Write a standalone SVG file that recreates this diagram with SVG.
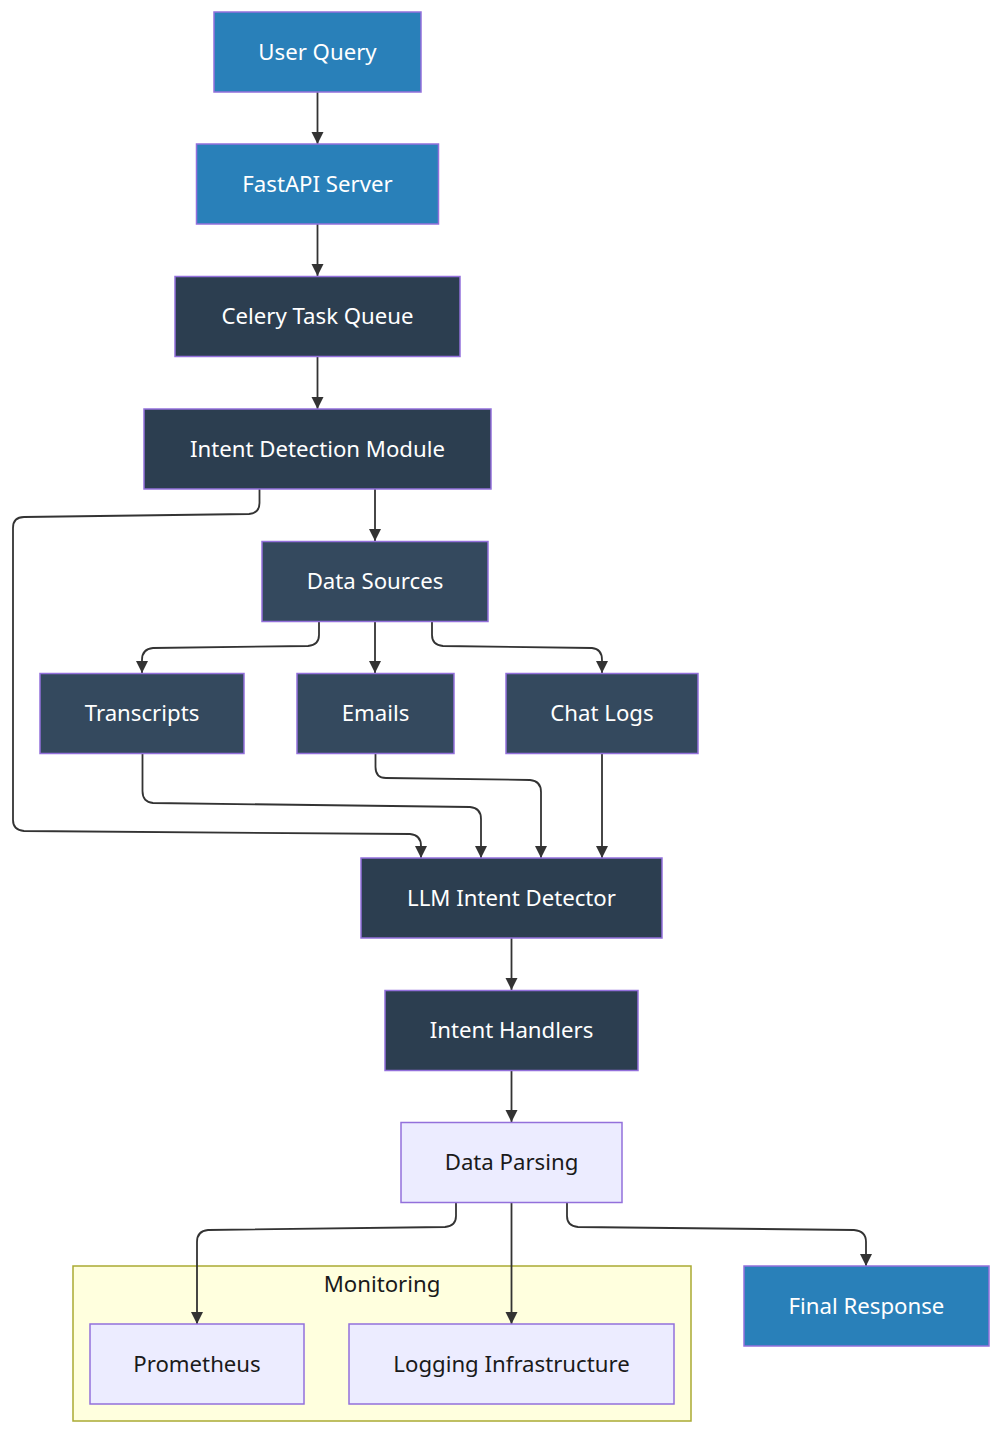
<svg xmlns="http://www.w3.org/2000/svg" width="1000" height="1434" viewBox="0 0 1000 1434">
<style>
text{font-family:"Noto Sans","Open Sans","DejaVu Sans",sans-serif;font-size:22.2px;text-anchor:middle;dominant-baseline:central}
.n rect{stroke:#9370db;stroke-width:1.5}
.b rect{fill:#2980b9}.b text,.d text,.s text{fill:#fff}
.d rect{fill:#2c3e50}.s rect{fill:#34495e}
.l rect{fill:#ececff}.l text,.c text{fill:#1a1a1a}
.c rect{fill:#ffffde;stroke:#aaaa33;stroke-width:1.5}
#edges path{fill:none;stroke:#333;stroke-width:1.8;marker-end:url(#a)}
</style>
<defs><marker id="a" markerUnits="userSpaceOnUse" markerWidth="13" markerHeight="13" refX="12" refY="6" orient="auto"><path d="M0 0L12 6L0 12z" fill="#333"/></marker></defs>
<g id="monitoring" class="c"><rect x="73" y="1266" width="618" height="155"/><text x="382" y="1283">Monitoring</text></g>
<g id="edges">
<path d="M317.500 92V144"/>
<path d="M317.500 224V276"/>
<path d="M317.500 356V409"/>
<path d="M375 489V541"/>
<path d="M259.500 489V503Q259.500 513 249 514L24 517Q13 517 13 528V820Q13 830 24 831L410 834Q421 835 421 846V858"/>
<path d="M319 621V635Q319 645 308 646L153 648Q142 649 142 660V673"/>
<path d="M375 621V673"/>
<path d="M432 621V635Q432 645 443 646L592 648Q602 649 602 660V673"/>
<path d="M142.500 753V791Q142.500 802 153 803L470 807Q481 808 481 819V858"/>
<path d="M375.500 753V767Q375.500 778 386 778L530 780Q541 781 541 792V858"/>
<path d="M602 753V858"/>
<path d="M511.500 938V990"/>
<path d="M511.500 1070V1122"/>
<path d="M456 1202V1216Q456 1226 445 1227L208 1230Q197 1231 197 1242V1324"/>
<path d="M511.500 1202V1324"/>
<path d="M567 1202V1216Q567 1226 578 1227L854 1230Q866 1231 866 1242V1266"/>
</g>
<g id="A" class="n b"><rect x="214" y="12" width="207" height="80"/><text x="317.500" y="51">User Query</text></g>
<g id="B" class="n b"><rect x="196.500" y="144" width="242" height="80"/><text x="317.500" y="183">FastAPI Server</text></g>
<g id="C" class="n d"><rect x="175" y="276.500" width="285" height="80"/><text x="317.500" y="315.500">Celery Task Queue</text></g>
<g id="D" class="n d"><rect x="144" y="409" width="347" height="80"/><text x="317.500" y="448">Intent Detection Module</text></g>
<g id="E" class="n s"><rect x="262" y="541.500" width="226" height="80"/><text x="375" y="580.500">Data Sources</text></g>
<g id="F" class="n s"><rect x="40" y="673.500" width="204" height="80"/><text x="142" y="712.500">Transcripts</text></g>
<g id="G" class="n s"><rect x="297" y="673.500" width="157" height="80"/><text x="375.500" y="712.500">Emails</text></g>
<g id="H" class="n s"><rect x="506" y="673.500" width="192" height="80"/><text x="602" y="712.500">Chat Logs</text></g>
<g id="I" class="n d"><rect x="361" y="858" width="301" height="80"/><text x="511.500" y="897">LLM Intent Detector</text></g>
<g id="J" class="n d"><rect x="385" y="990.500" width="253" height="80"/><text x="511.500" y="1029.500">Intent Handlers</text></g>
<g id="K" class="n l"><rect x="401" y="1122.500" width="221" height="80"/><text x="511.500" y="1161.500">Data Parsing</text></g>
<g id="L" class="n l"><rect x="90" y="1324" width="214" height="80"/><text x="197" y="1363">Prometheus</text></g>
<g id="M" class="n l"><rect x="349" y="1324" width="325" height="80"/><text x="511.500" y="1363">Logging Infrastructure</text></g>
<g id="N" class="n b"><rect x="744" y="1266" width="245" height="80"/><text x="866.500" y="1305">Final Response</text></g>
</svg>
